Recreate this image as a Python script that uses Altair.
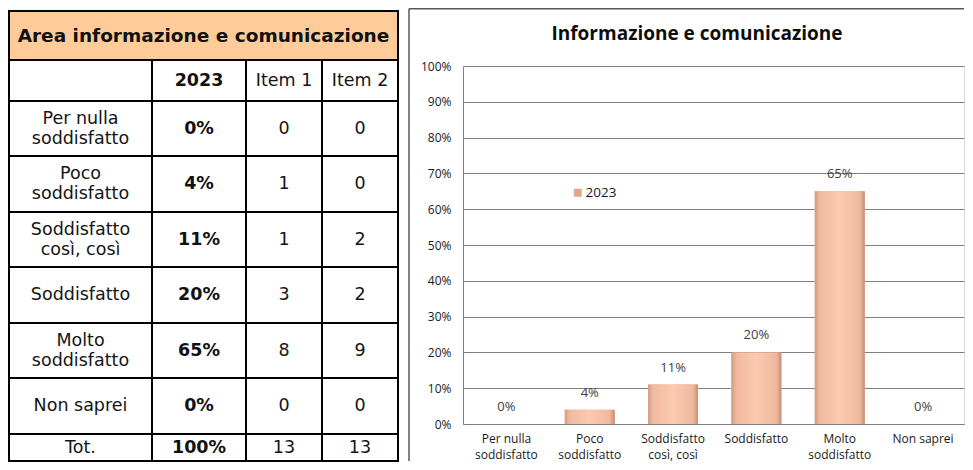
import altair as alt
import pandas as pd

# ---------------- data ----------------
CATEGORIES = ["Per nulla|soddisfatto", "Poco|soddisfatto", "Soddisfatto|così, così",
              "Soddisfatto", "Molto|soddisfatto", "Non saprei"]
PCT_2023 = [0, 4, 11, 20, 65, 0]
ITEM_1 = [0, 1, 1, 3, 8, 0]
ITEM_2 = [0, 0, 2, 2, 9, 0]
YEAR = "2023"
COL_HEADERS = ["", "2023", "Item 1", "Item 2"]
TOTAL_LABEL = "Tot."
TABLE_TITLE = "Area informazione e comunicazione"
CHART_TITLE = "Informazione e comunicazione"
Y_TICKS = [0, 10, 20, 30, 40, 50, 60, 70, 80, 90, 100]

# ---------------- layout / styles (pixels) ----------------
PLOT_X0, PLOT_Y0 = 463, 66          # page position of the plot area's top-left corner
PLOT_W, PLOT_H = 501, 358
COL_EDGES = [9, 152, 246, 322, 398]  # table grid, page pixels
ROW_EDGES = [11, 60, 101, 156, 212, 267, 323, 378, 434, 461]
LINE_H = 20
TABLE_FONT = "DejaVu Sans"
CHART_FONT = "Open Sans"
HEADER_FILL = "#FFCC99"
GRID_COLOR = "#808080"

# ---------------- table cells ----------------
cells = []


def add_cell(c0, c1, r, text, bold=False, fill="#FFFFFF", size=17.5):
    n_lines = text.count("|") + 1
    cells.append({
        "x0": COL_EDGES[c0], "x1": COL_EDGES[c1],
        "y0": ROW_EDGES[r], "y1": ROW_EDGES[r + 1],
        "xc": (COL_EDGES[c0] + COL_EDGES[c1]) / 2,
        "yc": (ROW_EDGES[r] + ROW_EDGES[r + 1]) / 2 - (n_lines - 1) * LINE_H / 2,
        "text": text, "bold": bold, "fill": fill, "fs": size,
    })


add_cell(0, 4, 0, TABLE_TITLE, bold=True, fill=HEADER_FILL, size=18.5)
for c, h in enumerate(COL_HEADERS):
    add_cell(c, c + 1, 1, h, bold=(h == YEAR))
for i, cat in enumerate(CATEGORIES):
    r = i + 2
    add_cell(0, 1, r, cat)
    add_cell(1, 2, r, f"{PCT_2023[i]}%", bold=True)
    add_cell(2, 3, r, str(ITEM_1[i]))
    add_cell(3, 4, r, str(ITEM_2[i]))
rt = len(CATEGORIES) + 2
add_cell(0, 1, rt, TOTAL_LABEL)
add_cell(1, 2, rt, f"{sum(PCT_2023)}%", bold=True)
add_cell(2, 3, rt, str(sum(ITEM_1)))
add_cell(3, 4, rt, str(sum(ITEM_2)))
tdf = pd.DataFrame(cells)


def tx(field):
    return alt.X(field, type="quantitative", axis=None,
                 scale=alt.Scale(domain=[PLOT_X0, PLOT_X0 + PLOT_W], nice=False, zero=False))


def ty(field):
    return alt.Y(field, type="quantitative", axis=None,
                 scale=alt.Scale(domain=[PLOT_Y0, PLOT_Y0 + PLOT_H], nice=False, zero=False, reverse=True))


tbase = alt.Chart(tdf)
t_rect = tbase.mark_rect(stroke="#000000", strokeWidth=2).encode(
    x=tx("x0"), x2="x1:Q", y=ty("y0"), y2="y1:Q",
    fill=alt.Fill("fill:N", scale=None),
)
t_txt_norm = tbase.transform_filter("!datum.bold").mark_text(
    font=TABLE_FONT, color="#151515", lineBreak="|", lineHeight=LINE_H, baseline="middle"
).encode(x=tx("xc"), y=ty("yc"), text="text:N", size=alt.Size("fs:Q", scale=None))
t_txt_bold = tbase.transform_filter("datum.bold").mark_text(
    font=TABLE_FONT, fontWeight="bold", color="#111111", lineBreak="|", lineHeight=LINE_H, baseline="middle"
).encode(x=tx("xc"), y=ty("yc"), text="text:N", size=alt.Size("fs:Q", scale=None))

# ---------------- bar chart ----------------
df = pd.DataFrame({"cat": CATEGORIES, "pct": PCT_2023, "serie": YEAR})

xenc = alt.X(
    "cat:N", sort=CATEGORIES,
    scale=alt.Scale(paddingInner=0.401, paddingOuter=0.2066, align=0.536),
    axis=alt.Axis(title=None, labelExpr="split(datum.label, '|')", labelAngle=0,
                  labelFont=CHART_FONT, labelFontSize=12, labelColor="#1a1a1a",
                  labelLineHeight=16, labelPadding=9, ticks=False,
                  domainColor=GRID_COLOR, domainWidth=1, grid=False),
)
yenc = alt.Y(
    "pct:Q", scale=alt.Scale(domain=[0, 100], nice=False),
    axis=alt.Axis(title=None, values=Y_TICKS, labelExpr="datum.value + '%'",
                  labelFont=CHART_FONT, labelFontSize=12, labelColor="#1a1a1a",
                  ticks=False, labelPadding=12, grid=True, gridColor=GRID_COLOR,
                  gridWidth=1, domainColor=GRID_COLOR, domainWidth=1),
)

base = alt.Chart(df)
bars_legend = base.mark_bar().encode(
    x=xenc, y=yenc,
    color=alt.Color("serie:N", scale=alt.Scale(domain=[YEAR], range=["#E2A78B"]),
                    legend=alt.Legend(title=None, orient="none", legendX=108, legendY=120,
                                      symbolType="square", symbolSize=64, symbolStrokeWidth=0,
                                      labelFont=CHART_FONT, labelFontSize=13.5, labelColor="#1a1a1a",
                                      padding=0, labelOffset=1)),
)
grad = alt.LinearGradient(
    gradient="linear", x1=0, x2=1, y1=0, y2=0,
    stops=[
        alt.GradientStop(color="#D29C82", offset=0),
        alt.GradientStop(color="#F1BA9E", offset=0.1),
        alt.GradientStop(color="#FCCAB0", offset=0.5),
        alt.GradientStop(color="#F0B89C", offset=0.9),
        alt.GradientStop(color="#C48F76", offset=1),
    ],
)
bars = base.mark_bar(color=grad).encode(x=xenc, y=yenc)
labels = base.transform_calculate(lbl="datum.pct + '%'").mark_text(
    font=CHART_FONT, fontSize=13, color="#404040", dy=-17
).encode(x=xenc, y=yenc, text="lbl:N")

bar_chart = alt.layer(bars_legend, bars, labels)

one = alt.Data(values=[{"k": 1}])
frame_left = alt.Chart(one).mark_rule(color="#595959", strokeWidth=1.5).encode(
    x=alt.value(409 - PLOT_X0), y=alt.value(8.75 - PLOT_Y0), y2=alt.value(461 - PLOT_Y0))
frame_top = alt.Chart(one).mark_rule(color="#595959", strokeWidth=1.5).encode(
    x=alt.value(409 - PLOT_X0), x2=alt.value(PLOT_W), y=alt.value(8.75 - PLOT_Y0))
title = alt.Chart(one).mark_text(
    text=CHART_TITLE, font=CHART_FONT, fontSize=19, fontWeight="bold", color="#0d0d0d"
).encode(x=alt.value(697 - PLOT_X0), y=alt.value(34 - PLOT_Y0))

chart = alt.layer(
    t_rect, t_txt_norm, t_txt_bold, bar_chart, frame_left, frame_top, title
).resolve_scale(x="independent", y="independent").properties(
    width=PLOT_W, height=PLOT_H, padding=0
).configure_view(stroke=None).configure(background="white")

chart.save("out.html", embed_options={"renderer": "svg", "actions": False})
